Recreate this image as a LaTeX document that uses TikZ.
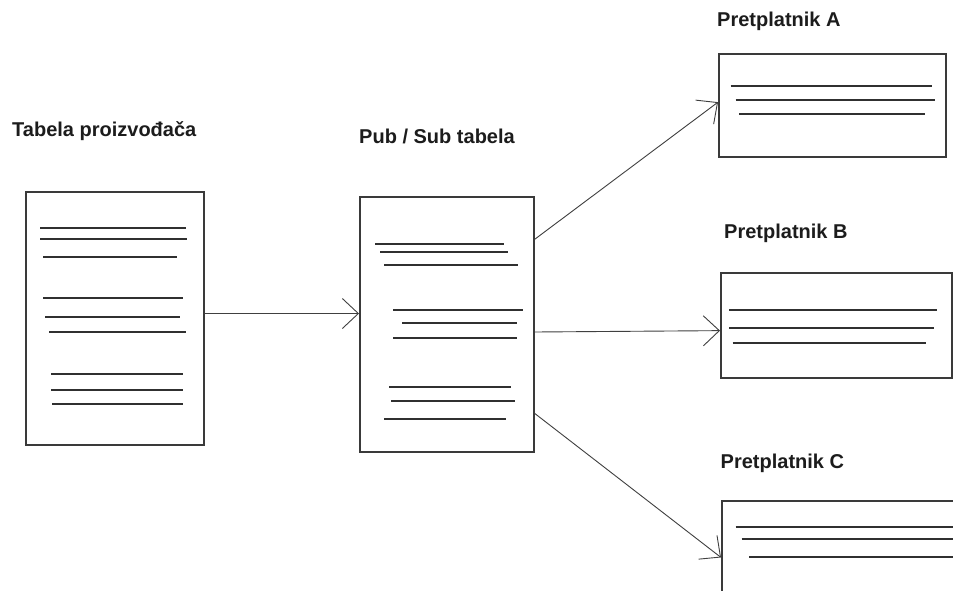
\documentclass[tikz,border=0pt]{standalone}
\usepackage{fontspec}
\setmainfont{Liberation Sans}
\usetikzlibrary{arrows.meta,calc}
\definecolor{boxgray}{HTML}{3A3A3A}
\definecolor{linegray}{HTML}{303030}
\definecolor{arrowgray}{HTML}{404040}
\definecolor{titlegray}{HTML}{1C1C1C}
\begin{document}
\begin{tikzpicture}[x=1pt,y=-1pt,
  frame/.style={draw=boxgray, line width=1.6pt, inner sep=0pt, anchor=north west},
  txtline/.style={draw=linegray, line width=1.8pt},
  link/.style={draw=arrowgray, line width=0.9pt,
    -{Straight Barb[length=16pt,width=30pt,line width=0.9pt]}},
  title/.style={anchor=base west, inner sep=0pt, text=titlegray,
    font=\bfseries\fontsize{20}{22}\selectfont}
]
\useasboundingbox (0,0) rectangle (953,590);
\clip (0,0) rectangle (953,590);
\fill[white] (0,0) rectangle (953,590);

% titles
\node[title] (tSrc) at (12,136.5) {Tabela proizvođača};
\node[title] (tPs)  at (359,143.3) {Pub / Sub tabela};
\node[title] (tA)   at (717,26) {Pretplatnik A};
\node[title] (tB)   at (724,238.3) {Pretplatnik B};
\node[title] (tC)   at (720.5,468.3) {Pretplatnik C};

% publisher table
\node[frame, minimum width=178pt, minimum height=253pt] (src) at (25,191) {};
\draw[txtline] (40,228.3) -- (185.7,228.3);
\draw[txtline] (40,239) -- (187,239);
\draw[txtline] (43,257) -- (177,257);
\draw[txtline] (43,297.7) -- (183,297.7);
\draw[txtline] (45,317) -- (180,317);
\draw[txtline] (49,332) -- (186,332);
\draw[txtline] (51,374) -- (183,374);
\draw[txtline] (51,390) -- (183,390);
\draw[txtline] (52,403.7) -- (183,403.7);

% pub / sub table
\node[frame, minimum width=174pt, minimum height=255pt] (pubsub) at (359,196) {};
\draw[txtline] (375,243.7) -- (504,243.7);
\draw[txtline] (380,252) -- (508,252);
\draw[txtline] (384,264.7) -- (518,264.7);
\draw[txtline] (393,310) -- (523,310);
\draw[txtline] (402,323) -- (517,323);
\draw[txtline] (393,338) -- (517,338);
\draw[txtline] (389,387) -- (511,387);
\draw[txtline] (391,400.7) -- (515,400.7);
\draw[txtline] (384,418.7) -- (506,418.7);

% subscriber A
\node[frame, minimum width=227pt, minimum height=103pt] (subA) at (718,53) {};
\draw[txtline] (730.7,86) -- (932,86);
\draw[txtline] (735.7,100) -- (935,100);
\draw[txtline] (739,114.3) -- (925,114.3);

% subscriber B
\node[frame, minimum width=231pt, minimum height=105pt] (subB) at (720,272) {};
\draw[txtline] (729,310) -- (937,310);
\draw[txtline] (729,328) -- (934,328);
\draw[txtline] (732.7,342.7) -- (926,342.7);

% subscriber C (runs past the page edge)
\node[frame, minimum width=260pt, minimum height=120pt] (subC) at (721,500) {};
\draw[txtline] (735.7,527.3) -- (960,527.3);
\draw[txtline] (741.7,538.7) -- (960,538.7);
\draw[txtline] (749,556.7) -- (960,556.7);

% connection points
\coordinate (srcOut) at ($(src.north east)!0.481!(src.south east)$);
\coordinate (psIn)   at ($(pubsub.north west)!0.458!(pubsub.south west)$);
\coordinate (psOutA) at ($(pubsub.north east)!0.169!(pubsub.south east)$);
\coordinate (psOutB) at ($(pubsub.north east)!0.53!(pubsub.south east)$);
\coordinate (psOutC) at ($(pubsub.north east)!0.847!(pubsub.south east)$);
\coordinate (inA) at ($(subA.north west)!0.47!(subA.south west)$);
\coordinate (inB) at ($(subB.north west)!0.55!(subB.south west)$);
\coordinate (inC) at ($(subC.north west)!0.4725!(subC.south west)$);

% connectors
\draw[link] (srcOut) -- (psIn);
\draw[link] (psOutA) -- (inA);
\draw[link] (psOutB) -- (inB);
\draw[link] (psOutC) -- (inC);
\end{tikzpicture}
\end{document}
